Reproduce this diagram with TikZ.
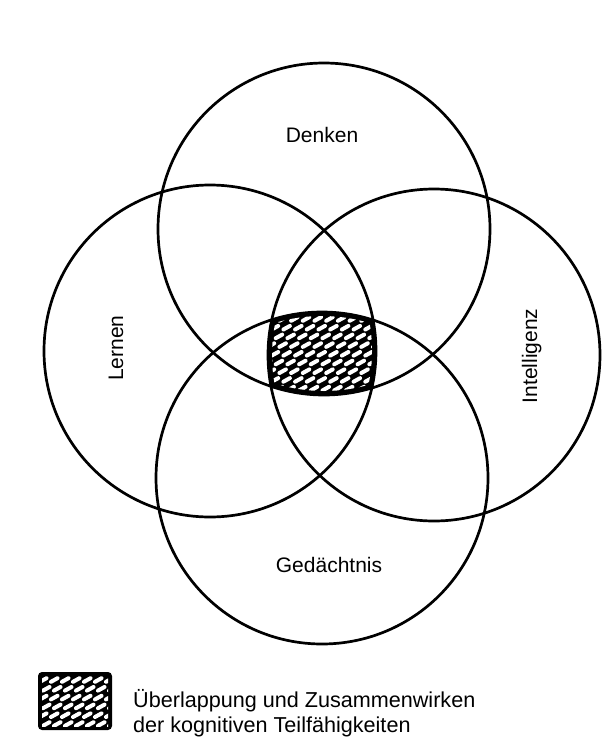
\documentclass[tikz,border=0pt]{standalone}
\usepackage{fontspec}
\setmainfont{Liberation Sans}
\begin{document}
\begin{tikzpicture}[x=1pt,y=-1pt]
\tikzset{
  ring/.style={draw=black, line width=2.7pt},
  lbl/.style={font=\fontsize{21}{25}\selectfont, inner sep=0pt},
  leglbl/.style={font=\fontsize{21.6}{26}\selectfont, inner sep=0pt},
  hdash/.style={white, line width=4pt, line cap=round}
}
\useasboundingbox (0,0) rectangle (604,747);
\fill[white] (0,0) rectangle (604,747);
\coordinate (cT) at (324,229);
\coordinate (cB) at (322,478);
\coordinate (cL) at (210,351);
\coordinate (cR) at (434,355);
% hatched intersection
\begin{scope}
  \clip (cT) circle[radius=166pt];
  \clip (cB) circle[radius=166pt];
  \clip (cL) circle[radius=166pt];
  \clip (cR) circle[radius=166pt];
  \fill[black] (250,300) rectangle (400,410);
  \begin{scope}
    \clip (cT) circle[radius=162pt];
    \clip (cB) circle[radius=162pt];
    \clip (cL) circle[radius=162pt];
    \clip (cR) circle[radius=162pt];
    \foreach \k in {0,...,9}{
      \foreach \j in {0,...,10}{
        \draw[hdash] ({256+11.7*\j+4*mod(\k,3)},{319+8.7*\k+1.8}) -- ++(6.5,-3.6);
      }
    }
  \end{scope}
\end{scope}
\draw[ring] (cT) circle[radius=166pt];
\draw[ring] (cB) circle[radius=166pt];
\draw[ring] (cL) circle[radius=166pt];
\draw[ring] (cR) circle[radius=166pt];
\node[lbl, anchor=base] (denken) at (322,142) {Denken};
\node[lbl, anchor=base] (gedaechtnis) at (329,572) {Gedächtnis};
\node[lbl, anchor=base, rotate=90] (lernen) at (123,348) {Lernen};
\node[lbl, anchor=base, rotate=90] (intelligenz) at (537,356) {Intelligenz};
% legend
\begin{scope}
  \fill[black, rounded corners=4pt] (38,672) rectangle (112,730);
  \clip (42,676) rectangle (108,726);
  \foreach \k in {0,...,5}{
    \foreach \j in {0,...,6}{
      \draw[hdash] ({40+11*\j+3*mod(\k,2)},{680+8.8*\k+1.8}) -- ++(6.5,-3.6);
    }
  }
\end{scope}
\node[leglbl, anchor=base west] (leg1) at (133,707) {Überlappung und Zusammenwirken};
\node[leglbl, anchor=base west] (leg2) at (133,732) {der kognitiven Teilfähigkeiten};
\end{tikzpicture}
\end{document}
